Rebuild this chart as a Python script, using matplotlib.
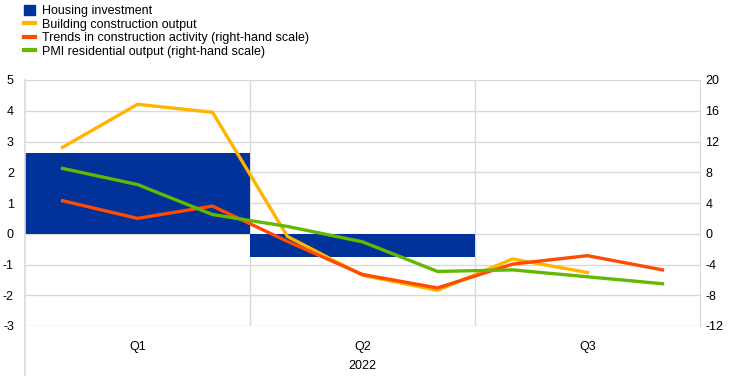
import numpy as np
import matplotlib.pyplot as plt
from matplotlib.lines import Line2D
from matplotlib.patches import Patch
from matplotlib.transforms import blended_transform_factory

plt.rcParams['font.family'] = ['Liberation Sans', 'DejaVu Sans']
plt.rcParams['font.size'] = 9
plt.rcParams['axes.unicode_minus'] = False

# data
quarters = ['Q1', 'Q2', 'Q3']
year = '2022'
housing = [2.62, -0.74, np.nan]  # left scale, quarterly
building = [2.81, 4.21, 3.95, -0.09, -1.35, -1.84, -0.82, -1.26, np.nan]  # left scale, monthly
trends = [4.3, 2.0, 3.6, -1.0, -5.3, -7.05, -3.95, -2.85, -4.7]  # right scale
pmi = [8.5, 6.4, 2.5, 0.95, -1.05, -4.9, -4.7, -5.6, -6.5]  # right scale

c_blue = '#003299'
c_yellow = '#FFB400'
c_orange = '#FF4B00'
c_green = '#65B800'
c_grid = '#d9d9d9'

fig = plt.figure(figsize=(7.43, 3.76), dpi=100)
ax = fig.add_axes([25 / 743, 1 - 326 / 376, 675 / 743, 246 / 376])
ax2 = ax.twinx()

qx = np.arange(len(quarters))
mx = np.arange(len(building)) / 3 - 1 / 3

ax.bar(qx, housing, width=1.0, color=c_blue, zorder=2)
ax.plot(mx, building, color=c_yellow, lw=2.4, zorder=3)
ax2.plot(mx, trends, color=c_orange, lw=2.4)
ax2.plot(mx, pmi, color=c_green, lw=2.4)

ax.set_xlim(-0.5, 2.5)
ax.set_ylim(-3, 5)
ax.set_yticks(range(-3, 6))
ax2.set_ylim(-12, 20)
ax2.set_yticks(range(-12, 21, 4))

ax.set_xticks(qx)
ax.set_xticklabels(quarters)
ax.grid(axis='y', color=c_grid, lw=1, zorder=0)
for b in [0.5, 1.5]:
    ax.axvline(b, color=c_grid, lw=1, zorder=0)

for a in (ax, ax2):
    a.tick_params(length=0, colors='black', labelsize=9)
    for s in a.spines.values():
        s.set_visible(False)
ax2.spines['right'].set_visible(True)
ax2.spines['right'].set_color(c_grid)
ax.tick_params(axis='y', pad=8)
ax2.tick_params(axis='y', pad=4)
ax.tick_params(axis='x', pad=11)

# left axis line runs down past the category labels
fig.add_artist(Line2D([25 / 743, 25 / 743], [0, 1 - 80 / 376], color=c_grid, lw=1.2))

trans = blended_transform_factory(ax.transData, fig.transFigure)
ax.text(1.0, 1 - 366 / 376, year, transform=trans, ha='center', va='center', fontsize=9)

handles = [Patch(color=c_blue),
           Line2D([], [], color=c_yellow, lw=3),
           Line2D([], [], color=c_orange, lw=3),
           Line2D([], [], color=c_green, lw=3)]
labels = ['Housing investment', 'Building construction output',
          'Trends in construction activity (right-hand scale)',
          'PMI residential output (right-hand scale)']
fig.legend(handles, labels, loc='upper left', bbox_to_anchor=(0.026, 1.0),
           frameon=False, handlelength=0.85, handleheight=0.85, handletextpad=0.6,
           labelspacing=0.1, fontsize=9, borderaxespad=0)

fig.savefig('out.png', dpi=100)
